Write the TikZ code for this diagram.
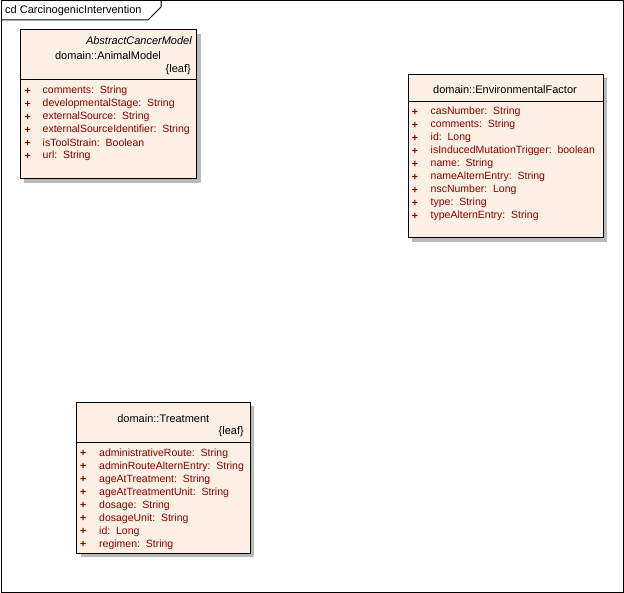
\documentclass[tikz,border=0pt]{standalone}
\usepackage{fontspec}
\setmainfont{Liberation Sans}
\definecolor{boxfill}{RGB}{251,240,227}
\definecolor{attrred}{RGB}{140,0,0}
\definecolor{shadowgray}{RGB}{185,185,185}
\tikzset{
  umlbox/.style={draw=black, line width=1pt, fill=boxfill},
  shadowbox/.style={fill=shadowgray, draw=none},
  frameline/.style={draw=black, line width=1pt},
  title/.style={font=\fontsize{11}{13}\selectfont, inner sep=0pt},
  attr/.style={font=\fontsize{10.5}{12}\selectfont, text=attrred, inner sep=0pt, anchor=west},
  plus/.style={font=\fontsize{10.5}{12}\selectfont\bfseries, text=attrred, inner sep=0pt},
}
\begin{document}
\begin{tikzpicture}[x=1pt,y=-1pt]
\useasboundingbox (0,0) rectangle (624,593);
% frame
\draw[frameline] (1,1) rectangle (623,592);
\draw[frameline] (1,20) -- (148,20) -- (161,7) -- (161,1);
\node[title, anchor=west] (frametitle) at (5,11) {cd CarcinogenicIntervention};

% AnimalModel
\fill[shadowbox] (24,34) rectangle (200.5,183);
\draw[umlbox] (20,30) rectangle (196.5,179);
\draw[black, line width=1pt] (20,80) -- (196.5,80);
\node[title, anchor=east, font=\fontsize{11}{13}\selectfont\itshape] (am_st) at (192,40.5) {AbstractCancerModel};
\node[title] (am) at (108,55.5) {domain::AnimalModel};
\node[title, anchor=east] (am_leaf) at (191,69.5) {\{leaf\}};
\foreach \t [count=\i] in {comments:\ \ String, developmentalStage:\ \ String, externalSource:\ \ String, externalSourceIdentifier:\ \ String, isToolStrain:\ \ Boolean, url:\ \ String}{
  \node[plus] (amp\i) at (27.7,{91.2+13*(\i-1)}) {+};
  \node[attr] (ama\i) at (42.5,{91.2+13*(\i-1)}) {\t};
}

% EnvironmentalFactor
\fill[shadowbox] (412,78.3) rectangle (607,242);
\draw[umlbox] (408,74.3) rectangle (603,238);
\draw[black, line width=1pt] (408,101.7) -- (603,101.7);
\node[title] (ef) at (505,89.5) {domain::EnvironmentalFactor};
\foreach \t [count=\i] in {casNumber:\ \ String, comments:\ \ String, id:\ \ Long, isInducedMutationTrigger:\ \ boolean, name:\ \ String, nameAlternEntry:\ \ String, nscNumber:\ \ Long, type:\ \ String, typeAlternEntry:\ \ String}{
  \node[plus] (efp\i) at (415,{112.2+13*(\i-1)}) {+};
  \node[attr] (efa\i) at (430.5,{112.2+13*(\i-1)}) {\t};
}

% Treatment
\fill[shadowbox] (80.7,406.3) rectangle (254,557);
\draw[umlbox] (76.7,402.3) rectangle (250,553);
\draw[black, line width=1pt] (76.7,442.3) -- (250,442.3);
\node[title] (tr) at (163.3,418.8) {domain::Treatment};
\node[title, anchor=east] (tr_leaf) at (244,431.2) {\{leaf\}};
\foreach \t [count=\i] in {administrativeRoute:\ \ String, adminRouteAlternEntry:\ \ String, ageAtTreatment:\ \ String, ageAtTreatmentUnit:\ \ String, dosage:\ \ String, dosageUnit:\ \ String, id:\ \ Long, regimen:\ \ String}{
  \node[plus] (trp\i) at (83.3,{453.5+13*(\i-1)}) {+};
  \node[attr] (tra\i) at (99,{453.5+13*(\i-1)}) {\t};
}
\end{tikzpicture}
\end{document}
